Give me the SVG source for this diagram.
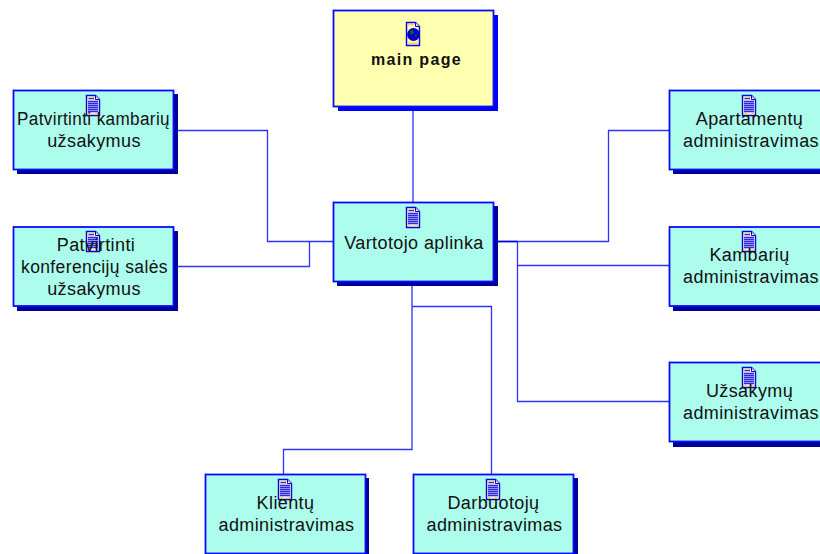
<svg xmlns="http://www.w3.org/2000/svg" width="820" height="554" viewBox="0 0 820 554">
<style>
.b{stroke:#0a0aff;stroke-width:1.8}
.c{fill:#adfdec}
.y{fill:#ffffb0}
.s{fill:#000099}
.s2{fill:#0000ff}
.t{font-family:"Liberation Sans",Arial,sans-serif;font-size:18px;letter-spacing:.4px;fill:#111;text-anchor:middle}
.w{fill:none;stroke:#3030ff;stroke-width:1.3}
</style>
<defs>
<g id="doc">
<path d="M0.500 0.500H9.500L13.500 4.500V20.500H0.500Z" fill="#fff6c8" stroke="#0000f0" stroke-width="1.400"/>
<path d="M9.500 0.500V4.500H13.500" fill="#ffe98a" stroke="#0000f0" stroke-width="1"/>
<path d="M2.500 3.500H8M2 6.500H12M2 8.500H12M2 10.500H12M2 12.500H12M2 14.500H12M2 16.500H12" stroke="#2a2af0" stroke-width="1.400"/>
<path d="M2 1.500H7V2.500H2ZM2 18H5V19.500H2ZM9 18H12V19.500H9Z" fill="#ffd84a"/>
</g>
<g id="globe">
<path d="M0.500 0.500H9.500L13.500 4.500V23.500H0.500Z" fill="#fff6c8" stroke="#0000f0" stroke-width="1.400"/>
<path d="M9.500 0.500V4.500H13.500" fill="#ffe98a" stroke="#0000f0" stroke-width="1"/>
<path d="M2 2H8V3.500H2ZM2 20.500H12V22H2Z" fill="#ffd84a"/>
<circle cx="7.500" cy="12.500" r="6.400" fill="#0000c0"/>
<path d="M4 9L7 8L8 11L5 13ZM9 13L11 12L10 16Z" fill="#0a6a2a"/>
</g>
</defs>
<g id="connectors" class="w">
<path d="M413 106V202"/>
<path d="M173.500 130.500H267.500V241.500H333"/>
<path d="M173.500 266.500H309.500V241.500"/>
<path d="M494 241.500H608.500V130.500H669"/>
<path d="M517.500 241.500V265.500H669"/>
<path d="M517.500 265.500V401.500H669"/>
<path d="M412 282V449.500H283.500V474"/>
<path d="M412 306.500H491.500V474"/>
<path d="M494 241.500H517.500" stroke="#0000dd" stroke-width="1.500"/>
</g>
<g id="main-page">
<rect x="338" y="15" width="160" height="96" class="s2"/>
<rect x="333.500" y="10.500" width="160" height="96" class="y b"/>
<use href="#globe" x="406" y="22"/>
<text x="416.500" y="65" class="t" style="font-weight:700;font-size:16px;letter-spacing:1.300px">main page</text>
</g>
<g id="vartotojo">
<rect x="337" y="206" width="161" height="80" class="s"/>
<rect x="333.500" y="202.500" width="160" height="79" class="c b"/>
<use href="#doc" x="406" y="207"/>
<text x="414" y="249" class="t">Vartotojo aplinka</text>
</g>
<g id="patvirtinti-kambariu">
<rect x="17" y="94" width="161" height="80" class="s"/>
<rect x="13.500" y="90.500" width="160" height="79" class="c b"/>
<use href="#doc" x="86" y="95"/>
<text x="93.500" y="125" class="t" textLength="153" lengthAdjust="spacingAndGlyphs">Patvirtinti kambarių</text>
<text x="94" y="147" class="t">užsakymus</text>
</g>
<g id="patvirtinti-konferenciju">
<rect x="17" y="231" width="161" height="80" class="s"/>
<rect x="13.500" y="227" width="160" height="79" class="c b"/>
<use href="#doc" x="86" y="231"/>
<text x="96" y="251" class="t">Patvirtinti</text>
<text x="94.500" y="273" class="t" textLength="147" lengthAdjust="spacingAndGlyphs">konferencijų salės</text>
<text x="94" y="295" class="t">užsakymus</text>
</g>
<g id="apartamentu">
<rect x="673" y="94" width="151" height="80" class="s"/>
<rect x="669.500" y="90.500" width="160" height="79" class="c b"/>
<use href="#doc" x="742" y="95"/>
<text x="749.500" y="125" class="t">Apartamentų</text>
<text x="751" y="147" class="t">administravimas</text>
</g>
<g id="kambariu">
<rect x="673" y="231" width="151" height="80" class="s"/>
<rect x="669.500" y="227" width="160" height="79" class="c b"/>
<use href="#doc" x="742" y="231"/>
<text x="749.500" y="261" class="t">Kambarių</text>
<text x="751" y="283" class="t">administravimas</text>
</g>
<g id="uzsakymu">
<rect x="673" y="367" width="151" height="80" class="s"/>
<rect x="669.500" y="362.500" width="160" height="79" class="c b"/>
<use href="#doc" x="742" y="367"/>
<text x="749.500" y="397" class="t">Užsakymų</text>
<text x="751" y="419" class="t">administravimas</text>
</g>
<g id="klientu">
<rect x="209" y="478" width="160" height="80" class="s"/>
<rect x="205.500" y="474.500" width="160" height="79" class="c b"/>
<use href="#doc" x="278" y="479"/>
<text x="285.500" y="509" class="t">Klientų</text>
<text x="286.500" y="531" class="t">administravimas</text>
</g>
<g id="darbuotoju">
<rect x="417" y="478" width="161" height="80" class="s"/>
<rect x="413.500" y="474.500" width="160" height="79" class="c b"/>
<use href="#doc" x="486" y="479"/>
<text x="493.500" y="509" class="t">Darbuotojų</text>
<text x="494.500" y="531" class="t">administravimas</text>
</g>
</svg>
